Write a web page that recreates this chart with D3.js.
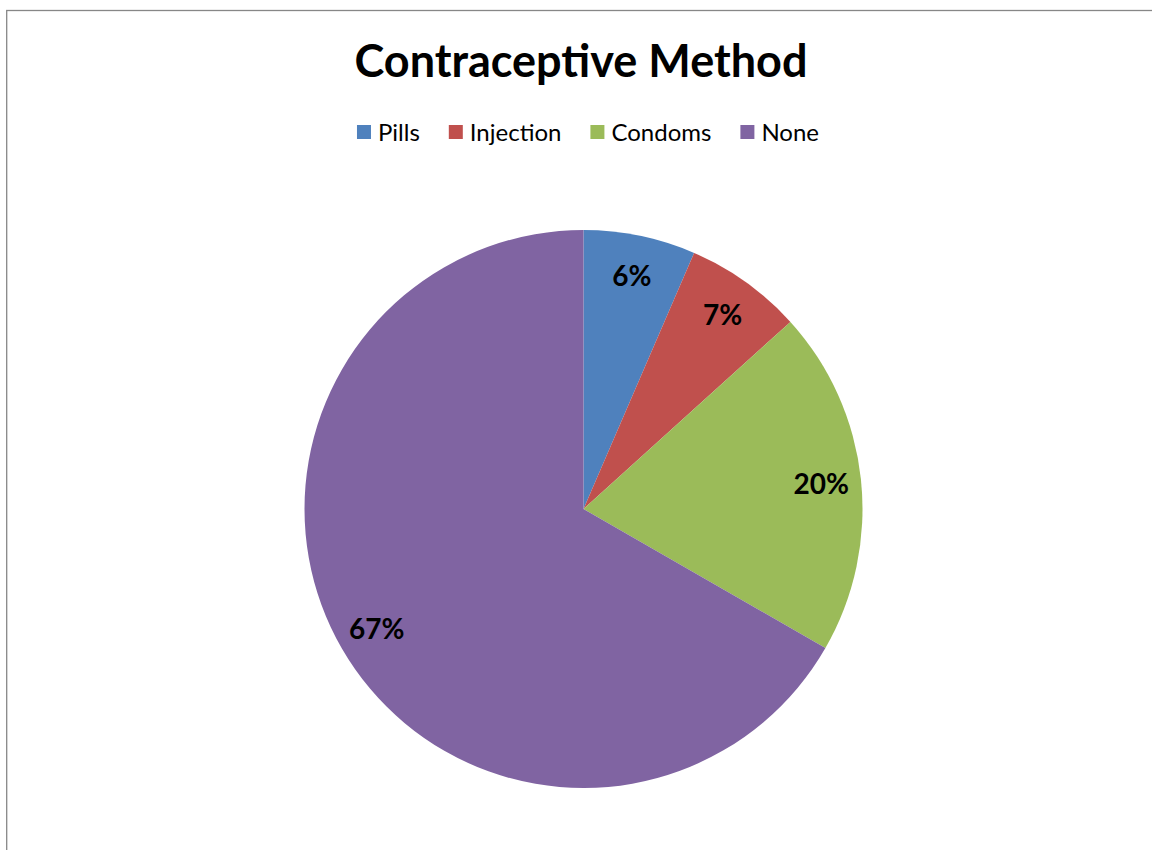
<!DOCTYPE html>
<html>
<head>
<meta charset="utf-8">
<script src="https://cdn.jsdelivr.net/npm/d3@7"></script>
<style>
  html, body { margin: 0; padding: 0; background: #fff; }
  svg { display: block; }
  text { font-family: Lato, "Open Sans", sans-serif; }
</style>
</head>
<body>
<svg id="chart" width="1152" height="850"></svg>
<script>
const categories = ["Pills", "Injection", "Condoms", "None"];
const values = [6.49, 6.81, 20.0, 66.7];
const colors = ["#4F81BD", "#C0504D", "#9BBB59", "#8064A2"];
const title = "Contraceptive Method";

const svg = d3.select("#chart");
const cx = 583.5, cy = 509, R = 279, labelR = 239;

// chart area border
svg.append("rect")
  .attr("x", 6.7).attr("y", 10.5)
  .attr("width", 1300).attr("height", 1000)
  .attr("fill", "#fff")
  .attr("stroke", "#878787").attr("stroke-width", 1.3);

// title
svg.append("text")
  .attr("x", 581).attr("y", 77)
  .attr("text-anchor", "middle")
  .attr("font-weight", "bold")
  .attr("font-size", 45)
  .attr("fill", "#000")
  .text(title);

// legend
const legend = svg.append("g");
const fs = 24, sq = 14, gapText = 7, gapItem = 29;
let x = 0;
categories.forEach((c, i) => {
  const g = legend.append("g");
  g.append("rect").attr("x", 0).attr("y", -sq / 2).attr("width", sq).attr("height", sq).attr("fill", colors[i]);
  const t = g.append("text").attr("x", sq + gapText).attr("y", 0).attr("dy", "0.36em")
    .attr("font-size", fs).attr("fill", "#000").text(c);
  const w = sq + gapText + t.node().getComputedTextLength();
  g.attr("transform", `translate(${x},0)`);
  x += w + gapItem;
});
const totalW = x - gapItem;
legend.attr("transform", `translate(${588 - totalW / 2},132)`);

// pie
const total100 = d3.sum(values);
const pie = d3.pie().sort(null).value(d => d)(values);
const arc = d3.arc().innerRadius(0).outerRadius(R);
const labelArc = d3.arc().innerRadius(labelR).outerRadius(labelR);
const g = svg.append("g").attr("transform", `translate(${cx},${cy})`);
g.selectAll("path").data(pie).enter().append("path")
  .attr("d", arc)
  .attr("fill", (d, i) => colors[i]);

const fmt = d3.format(".0%");
g.selectAll("text.lbl").data(pie).enter().append("text")
  .attr("class", "lbl")
  .attr("transform", d => `translate(${labelArc.centroid(d)})`)
  .attr("text-anchor", "middle")
  .attr("dy", "0.38em")
  .attr("font-weight", "bold")
  .attr("font-size", 28)
  .attr("fill", "#000")
  .text(d => fmt(d.value / total100));
</script>
</body>
</html>
